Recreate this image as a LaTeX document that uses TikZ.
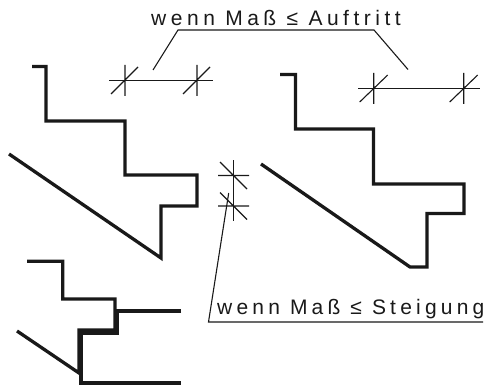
\documentclass[tikz,border=0pt]{standalone}
\usepackage{fontspec}
\setmainfont{Liberation Sans}
\newfontfamily\cadfont[LetterSpace=21.5]{Liberation Sans}
\newfontfamily\cadfontb[LetterSpace=20]{Liberation Sans}
\usepackage{tikz}
\tikzstyle{stair} = [draw, black!90, line width=3.3pt, line join=miter]
\tikzstyle{dimline} = [draw, black!90, line width=1.1pt]
\tikzstyle{leader} = [draw, black!90, line width=1.1pt]
\tikzstyle{caption} = [inner sep=0pt, anchor=base west, text=black!90, font=\cadfont\fontsize{21}{21}\selectfont]

\begin{document}
\begin{tikzpicture}[x=1pt, y=-1pt]
   \useasboundingbox (0,0) rectangle (486,390);
   % Place nodes
    \node [caption] (auftritt) at (151,26) {wenn Maß ≤ Auftritt};
    \node [caption, font=\cadfontb\fontsize{21}{21}\selectfont] (steigung) at (217,314) {wenn Maß ≤ Steigung};
    \coordinate (auftrittL) at (178,30);
    \coordinate (auftrittR) at (374,30);
    \coordinate (steigungL) at (208.5,322);
    \coordinate (steigungR) at (483,322);
    \coordinate (endA) at (153,70);
    \coordinate (endB) at (408,69.5);
    \coordinate (endC) at (228.7,193);
   % Draw stairs
    \path [stair] (32,66.5) -- (46,66.5) -- (46,121) -- (125,121) -- (125,175) -- (197,175)
      -- (197,206) -- (161,206) -- (161,258) -- (9,154);
    \path [stair] (280,74.5) -- (295.5,74.5) -- (295.5,129) -- (373.5,129) -- (373.5,184)
      -- (464,184) -- (464,213.5) -- (427,213.5) -- (427,267) -- (410,267) -- (261,164);
    \path [stair] (27,261.3) -- (62.7,261.3) -- (62.7,299) -- (115,299) -- (115,330)
      -- (79,330) -- (79,373) -- (17,331);
    \path [stair] (181,311) -- (117,311) -- (117,333) -- (81,333) -- (81,383) -- (181,383);
   % Draw dimensions
    \path [dimline] (109,80.5) -- (212.7,80.5);
    \path [dimline] (358,88.7) -- (480,88.7);
    \path [dimline] (233.7,160) -- (233.7,221);
    \foreach \x in {125,197}
      \path [dimline] (\x,65) -- (\x,96) (\x-14,94) -- (\x+13,67);
    \foreach \x in {373.7,463.7}
      \path [dimline] (\x,73) -- (\x,104) (\x-14,102) -- (\x+14,75);
    \foreach \y in {175.5,206}
      \path [dimline] (218,\y) -- (249,\y) (220,\y-13.5) -- (247,\y+13.5);
   % Draw leaders
    \path [leader] (endA) -- (auftrittL) -- (auftrittR) -- (endB);
    \path [leader] (endC) -- (steigungL) -- (steigungR);
  \end{tikzpicture}
\end{document}
